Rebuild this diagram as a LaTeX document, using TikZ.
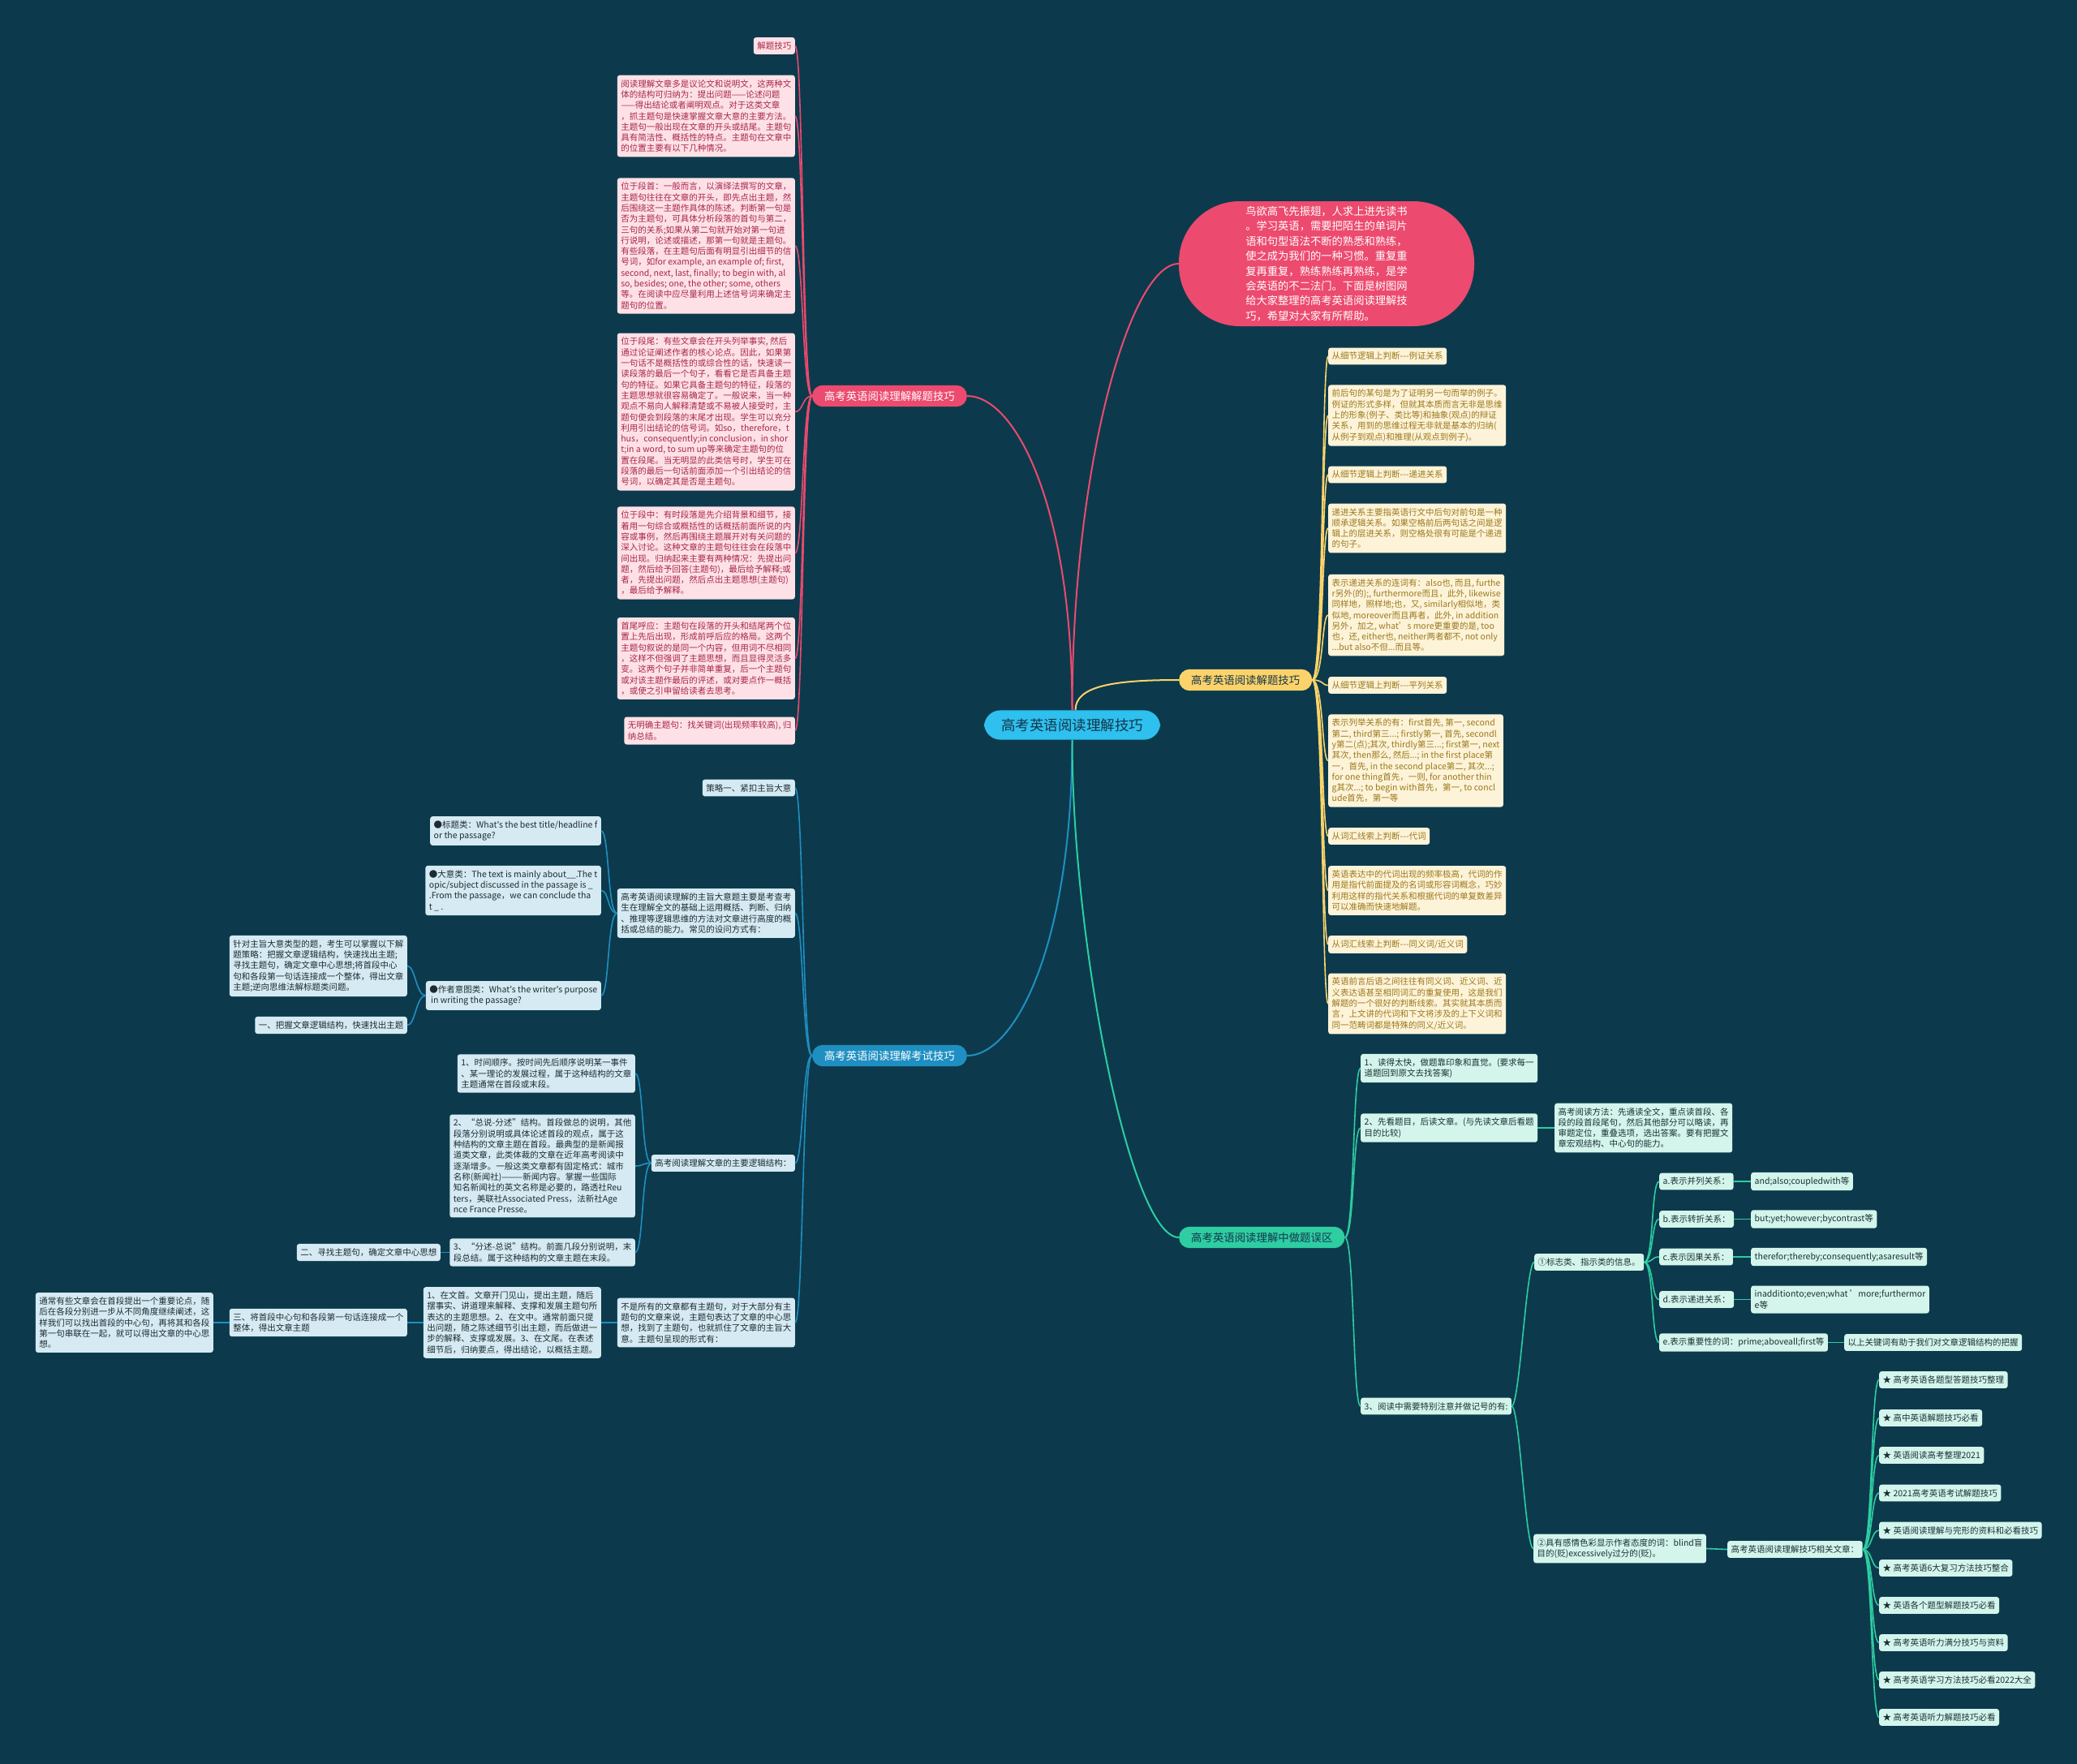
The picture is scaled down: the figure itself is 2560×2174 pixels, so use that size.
\documentclass[tikz,border=0pt]{standalone}
\usepackage{fontspec}
\setmainfont{Noto Sans CJK SC}[Ligatures=TeXOff]
\definecolor{bgc}{HTML}{0C3A4C}
\definecolor{centerfill}{HTML}{2EC0EE}
\definecolor{centertext}{HTML}{15364A}
\definecolor{pinkmain}{HTML}{EC4A6E}
\definecolor{pinkfill}{HTML}{FDE1E6}
\definecolor{pinktext}{HTML}{A8264A}
\definecolor{yellowmain}{HTML}{FCD36A}
\definecolor{yellowfill}{HTML}{FDF3D8}
\definecolor{yellowtext}{HTML}{9A781C}
\definecolor{bluemain}{HTML}{1F8FC2}
\definecolor{bluefill}{HTML}{D5EAF2}
\definecolor{bluetext}{HTML}{1E2B33}
\definecolor{greenmain}{HTML}{2ECDA2}
\definecolor{greenfill}{HTML}{D3F5EB}
\definecolor{greentext}{HTML}{1B3035}
\tikzset{
  base/.style={rounded corners=3pt, inner xsep=4.5pt, inner ysep=5.5pt, align=left,
    font=\fontsize{10.5}{13.3}\selectfont},
  pinkbox/.style={base, fill=pinkfill, text=pinktext},
  yellowbox/.style={base, fill=yellowfill, text=yellowtext},
  bluebox/.style={base, fill=bluefill, text=bluetext},
  greenbox/.style={base, fill=greenfill, text=greentext},
  mainnode/.style={rounded corners=13pt, inner xsep=15pt, inner ysep=7pt,
    font=\fontsize{13.4}{16}\selectfont},
  pinkline/.style={draw=pinkmain, line width=1.6pt},
  yellowline/.style={draw=yellowmain, line width=1.6pt},
  blueline/.style={draw=bluemain, line width=1.6pt},
  greenline/.style={draw=greenmain, line width=1.6pt},
}
\begin{document}
\begin{tikzpicture}[x=1pt,y=-1pt]
\fill[bgc] (0,0) rectangle (2560,2174);
\useasboundingbox (0,0) rectangle (2560,2174);

% ---------- main nodes ----------
\node[rounded corners=20pt, fill=centerfill, text=centertext, inner xsep=21pt, inner ysep=10pt,
  font=\fontsize{17.5}{20}\selectfont] (center) at (1321.5,893.5) {高考英语阅读理解技巧};
\node[mainnode, fill=pinkmain, text=white, anchor=east] (pinkB) at (1192,488) {高考英语阅读理解解题技巧};
\node[mainnode, fill=yellowmain, text=centertext, anchor=west] (yellowB) at (1453,838) {高考英语阅读解题技巧};
\node[mainnode, fill=bluemain, text=white, anchor=east] (blueB) at (1192,1301) {高考英语阅读理解考试技巧};
\node[mainnode, fill=greenmain, text=centertext, anchor=west] (greenB) at (1453,1525) {高考英语阅读理解中做题误区};
\node[fill=pinkmain, text=white, rounded corners=75pt, minimum width=364pt, minimum height=154pt,
  align=left, font=\fontsize{13.3}{18.4}\selectfont] (bubble) at (1635,325)
  {鸟欲高飞先振翅，人求上进先读书\\。学习英语，需要把陌生的单词片\\语和句型语法不断的熟悉和熟练，\\使之成为我们的一种习惯。重复重\\复再重复，熟练熟练再熟练，是学\\会英语的不二法门。下面是树图网\\给大家整理的高考英语阅读理解技\\巧，希望对大家有所帮助。};

\draw[pinkline, line width=2pt] (center.north) .. controls +(0,-250) and +(60,0) .. (pinkB.east);
\draw[pinkline, line width=2pt] (center.north) .. controls +(0,-300) and +(-60,0) .. (bubble.west);
\draw[yellowline, line width=2pt] ([xshift=4pt]center.north) .. controls +(0,-30) and +(-80,0) .. (yellowB.west);
\draw[blueline, line width=2pt] (center.south) .. controls +(0,250) and +(60,0) .. (blueB.east);
\draw[greenline, line width=2pt] (center.south) .. controls +(0,250) and +(-60,0) .. (greenB.west);

% ---------- pink branch ----------
\node[pinkbox, anchor=east] (p0) at (980,56.5) {解题技巧};
\node[pinkbox, anchor=east] (p1) at (980,143) {阅读理解文章多是议论文和说明文，这两种文\\体的结构可归纳为：提出问题——论述问题\\——得出结论或者阐明观点。对于这类文章\\，抓主题句是快速掌握文章大意的主要方法。\\主题句一般出现在文章的开头或结尾。主题句\\具有简洁性、概括性的特点。主题句在文章中\\的位置主要有以下几种情况。};
\node[pinkbox, anchor=east] (p2) at (980,303) {位于段首：一般而言，以演绎法撰写的文章，\\主题句往往在文章的开头，即先点出主题，然\\后围绕这一主题作具体的陈述。判断第一句是\\否为主题句，可具体分析段落的首句与第二，\\三句的关系;如果从第二句就开始对第一句进\\行说明，论述或描述，那第一句就是主题句。\\有些段落，在主题句后面有明显引出细节的信\\号词，如for example, an example of; first,\\second, next, last, finally; to begin with, al\\so, besides; one, the other; some, others\\等。在阅读中应尽量利用上述信号词来确定主\\题句的位置。};
\node[pinkbox, anchor=east] (p3) at (980,507.5) {位于段尾：有些文章会在开头列举事实, 然后\\通过论证阐述作者的核心论点。因此，如果第\\一句话不是概括性的或综合性的话，快速读一\\读段落的最后一个句子，看看它是否具备主题\\句的特征。如果它具备主题句的特征，段落的\\主题思想就很容易确定了。一般说来，当一种\\观点不易向人解释清楚或不易被人接受时，主\\题句便会到段落的末尾才出现。学生可以充分\\利用引出结论的信号词。如so，therefore，t\\hus，consequently;in conclusion，in shor\\t;in a word, to sum up等来确定主题句的位\\置在段尾。当无明显的此类信号时，学生可在\\段落的最后一句话前面添加一个引出结论的信\\号词，以确定其是否是主题句。};
\node[pinkbox, anchor=east] (p4) at (980,681.5) {位于段中：有时段落是先介绍背景和细节，接\\着用一句综合或概括性的话概括前面所说的内\\容或事例，然后再围绕主题展开对有关问题的\\深入讨论。这种文章的主题句往往会在段落中\\间出现。归纳起来主要有两种情况：先提出问\\题，然后给予回答(主题句)，最后给予解释;或\\者，先提出问题，然后点出主题思想(主题句)\\，最后给予解释。};
\node[pinkbox, anchor=east] (p5) at (980,811.5) {首尾呼应：主题句在段落的开头和结尾两个位\\置上先后出现，形成前呼后应的格局。这两个\\主题句叙说的是同一个内容，但用词不尽相同\\，这样不但强调了主题思想，而且显得灵活多\\变。这两个句子并非简单重复，后一个主题句\\或对该主题作最后的评述，或对要点作一概括\\，或使之引申留给读者去思考。};
\node[pinkbox, anchor=east] (p6) at (980,900.5) {无明确主题句：找关键词(出现频率较高), 归\\纳总结。};
\foreach \n in {p0,p1,p2,p3,p4,p5,p6}
  \draw[pinkline] (pinkB.west) .. controls +(-12,0) and +(10,0) .. (\n.east);

% ---------- yellow branch ----------
\node[yellowbox, anchor=west] (y0) at (1637,439) {从细节逻辑上判断---例证关系};
\node[yellowbox, anchor=west] (y1) at (1637,512) {前后句的某句是为了证明另一句而举的例子。\\例证的形式多样，但就其本质而言无非是思维\\上的形象(例子、类比等)和抽象(观点)的辩证\\关系，用到的思维过程无非就是基本的归纳(\\从例子到观点)和推理(从观点到例子)。};
\node[yellowbox, anchor=west] (y2) at (1637,585) {从细节逻辑上判断---递进关系};
\node[yellowbox, anchor=west] (y3) at (1637,651) {递进关系主要指英语行文中后句对前句是一种\\顺承逻辑关系。如果空格前后两句话之间是逻\\辑上的层进关系，则空格处很有可能是个递进\\的句子。};
\node[yellowbox, anchor=west] (y4) at (1637,758) {表示递进关系的连词有：also也, 而且, furthe\\r另外(的);, furthermore而且，此外, likewise\\同样地，照样地;也，又, similarly相似地，类\\似地, moreover而且再者，此外, in addition\\另外，加之, what’s more更重要的是, too\\也，还, either也, neither两者都不, not only\\...but also不但...而且等。};
\node[yellowbox, anchor=west] (y5) at (1637,844.5) {从细节逻辑上判断---平列关系};
\node[yellowbox, anchor=west] (y6) at (1637,937.5) {表示列举关系的有：first首先, 第一, second\\第二, third第三...; firstly第一, 首先, secondl\\y第二(点);其次, thirdly第三...; first第一, next\\其次, then那么, 然后...; in the first place第\\一，首先, in the second place第二, 其次...;\\for one thing首先，一则, for another thin\\g其次...; to begin with首先，第一, to concl\\ude首先，第一等};
\node[yellowbox, anchor=west] (y7) at (1637,1030.5) {从词汇线索上判断---代词};
\node[yellowbox, anchor=west] (y8) at (1637,1097.5) {英语表达中的代词出现的频率极高，代词的作\\用是指代前面提及的名词或形容词概念，巧妙\\利用这样的指代关系和根据代词的单复数差异\\可以准确而快速地解题。};
\node[yellowbox, anchor=west] (y9) at (1637,1164) {从词汇线索上判断---同义词/近义词};
\node[yellowbox, anchor=west] (y10) at (1637,1237) {英语前言后语之间往往有同义词、近义词、近\\义表达语甚至相同词汇的重复使用，这是我们\\解题的一个很好的判断线索。其实就其本质而\\言，上文讲的代词和下文将涉及的上下义词和\\同一范畴词都是特殊的同义/近义词。};
\foreach \n in {y0,y1,y2,y3,y4,y5,y6,y7,y8,y9,y10}
  \draw[yellowline] (yellowB.east) .. controls +(14,0) and +(-8,0) .. (\n.west);

% ---------- blue branch ----------
\node[bluebox, anchor=east] (b1) at (980,971) {策略一、紧扣主旨大意};
\node[bluebox, anchor=east] (b2) at (980,1125.5) {高考英语阅读理解的主旨大意题主要是考查考\\生在理解全文的基础上运用概括、判断、归纳\\、推理等逻辑思维的方法对文章进行高度的概\\括或总结的能力。常见的设问方式有：};
\node[bluebox, anchor=east] (b3) at (980,1433.5) {高考阅读理解文章的主要逻辑结构：};
\node[bluebox, anchor=east] (b4) at (980,1630) {不是所有的文章都有主题句，对于大部分有主\\题句的文章来说，主题句表达了文章的中心思\\想，找到了主题句，也就抓住了文章的主旨大\\意。主题句呈现的形式有：};
\foreach \n in {b1,b2,b3,b4}
  \draw[blueline] (blueB.west) .. controls +(-12,0) and +(10,0) .. (\n.east);

\node[bluebox, anchor=east] (b21) at (741,1024) {●标题类：What's the best title/headline f\\or the passage?};
\node[bluebox, anchor=east] (b22) at (741,1097.5) {●大意类：The text is mainly about\_\_.The t\\opic/subject discussed in the passage is \_\\.From the passage，we can conclude tha\\t \_ .};
\node[bluebox, anchor=east] (b23) at (741,1227) {●作者意图类：What's the writer's purpose\\\,in writing the passage?};
\foreach \n in {b21,b22,b23}
  \draw[blueline] (b2.west) .. controls +(-12,0) and +(10,0) .. (\n.east);

\node[bluebox, anchor=east] (b231) at (502,1190.5) {针对主旨大意类型的题，考生可以掌握以下解\\题策略：把握文章逻辑结构，快速找出主题;\\寻找主题句，确定文章中心思想;将首段中心\\句和各段第一句话连接成一个整体，得出文章\\主题;逆向思维法解标题类问题。};
\node[bluebox, anchor=east] (b232) at (502,1263.5) {一、把握文章逻辑结构，快速找出主题};
\foreach \n in {b231,b232}
  \draw[blueline] (b23.west) .. controls +(-12,0) and +(10,0) .. (\n.east);

\node[bluebox, anchor=east] (b31) at (783,1323) {1、时间顺序。按时间先后顺序说明某一事件\\、某一理论的发展过程，属于这种结构的文章\\主题通常在首段或末段。};
\node[bluebox, anchor=east] (b32) at (783,1437) {2、“总说-分述”结构。首段做总的说明，其他\\段落分别说明或具体论述首段的观点，属于这\\种结构的文章主题在首段。最典型的是新闻报\\道类文章，此类体裁的文章在近年高考阅读中\\逐渐增多。一般这类文章都有固定格式：城市\\名称(新闻社)———新闻内容。掌握一些国际\\知名新闻社的英文名称是必要的，路透社Reu\\ters，美联社Associated Press，法新社Age\\nce France Presse。};
\node[bluebox, anchor=east] (b33) at (783,1543.5) {3、“分述-总说”结构。前面几段分别说明，末\\段总结。属于这种结构的文章主题在末段。};
\foreach \n in {b31,b32,b33}
  \draw[blueline] (b3.west) .. controls +(-12,0) and +(10,0) .. (\n.east);

\node[bluebox, anchor=east] (b331) at (543,1543.5) {二、寻找主题句，确定文章中心思想};
\draw[blueline] (b33.west) -- (b331.east);

\node[bluebox, anchor=east] (b41) at (741,1630) {1、在文首。文章开门见山，提出主题，随后\\摆事实、讲道理来解释、支撑和发展主题句所\\表达的主题思想。2、在文中。通常前面只提\\出问题，随之陈述细节引出主题，而后做进一\\步的解释、支撑或发展。3、在文尾。在表述\\细节后，归纳要点，得出结论，以概括主题。};
\draw[blueline] (b4.west) -- (b41.east);
\node[bluebox, anchor=east] (b411) at (502,1630) {三、将首段中心句和各段第一句话连接成一个\\整体，得出文章主题};
\draw[blueline] (b41.west) -- (b411.east);
\node[bluebox, anchor=east] (b4111) at (263,1630) {通常有些文章会在首段提出一个重要论点，随\\后在各段分别进一步从不同角度继续阐述，这\\样我们可以找出首段的中心句，再将其和各段\\第一句串联在一起，就可以得出文章的中心思\\想。};
\draw[blueline] (b411.west) -- (b4111.east);

% ---------- green branch ----------
\node[greenbox, anchor=west] (g1) at (1677,1316.5) {1、读得太快，做题靠印象和直觉。(要求每一\\道题回到原文去找答案)};
\node[greenbox, anchor=west] (g2) at (1677,1390) {2、先看题目，后读文章。(与先读文章后看题\\目的比较)};
\node[greenbox, anchor=west] (g3) at (1677,1733) {3、阅读中需要特别注意并做记号的有:};
\foreach \n in {g1,g2,g3}
  \draw[greenline] (greenB.east) .. controls +(12,0) and +(-10,0) .. (\n.west);

\node[greenbox, anchor=west] (g21) at (1916,1390) {高考阅读方法：先通读全文，重点读首段、各\\段的段首段尾句，然后其他部分可以略读，再\\审题定位，重叠选项，选出答案。要有把握文\\章宏观结构、中心句的能力。};
\draw[greenline] (g2.east) -- (g21.west);

\node[greenbox, anchor=west] (g31) at (1891,1555.5) {①标志类、指示类的信息。};
\node[greenbox, anchor=west] (g32) at (1890,1908.5) {②具有感情色彩显示作者态度的词：blind盲\\目的(贬)excessively过分的(贬)。};
\foreach \n in {g31,g32}
  \draw[greenline] (g3.east) .. controls +(10,0) and +(-10,0) .. (\n.west);

\node[greenbox, anchor=west] (ga) at (2045,1456) {a.表示并列关系：};
\node[greenbox, anchor=west] (gb) at (2045,1502.5) {b.表示转折关系：};
\node[greenbox, anchor=west] (gc) at (2045,1549) {c.表示因果关系：};
\node[greenbox, anchor=west] (gd) at (2045,1601.5) {d.表示递进关系：};
\node[greenbox, anchor=west] (ge) at (2045,1654.5) {e.表示重要性的词：prime;aboveall;first等};
\foreach \n in {ga,gb,gc,gd,ge}
  \draw[greenline] (g31.east) .. controls +(12,0) and +(-10,0) .. (\n.west);

\node[greenbox, anchor=west] (gav) at (2158,1456) {and;also;coupledwith等};
\node[greenbox, anchor=west] (gbv) at (2158,1502.5) {but;yet;however;bycontrast等};
\node[greenbox, anchor=west] (gcv) at (2158,1549) {therefor;thereby;consequently;asaresult等};
\node[greenbox, anchor=west] (gdv) at (2158,1601.5) {inadditionto;even;what ’more;furthermor\\e等};
\node[greenbox, anchor=west] (gev) at (2273,1654.5) {以上关键词有助于我们对文章逻辑结构的把握};
\draw[greenline] (ga.east) -- (gav.west);
\draw[greenline] (gb.east) -- (gbv.west);
\draw[greenline] (gc.east) -- (gcv.west);
\draw[greenline] (gd.east) -- (gdv.west);
\draw[greenline] (ge.east) -- (gev.west);

\node[greenbox, anchor=west] (g321) at (2129,1909.5) {高考英语阅读理解技巧相关文章：};
\draw[greenline] (g32.east) -- (g321.west);

\node[greenbox, anchor=west] (s1) at (2316,1700.5) {★ 高考英语各题型答题技巧整理};
\node[greenbox, anchor=west] (s2) at (2316,1747.5) {★ 高中英语解题技巧必看};
\node[greenbox, anchor=west] (s3) at (2316,1793.5) {★ 英语阅读高考整理2021};
\node[greenbox, anchor=west] (s4) at (2316,1840) {★ 2021高考英语考试解题技巧};
\node[greenbox, anchor=west] (s5) at (2316,1886) {★ 英语阅读理解与完形的资料和必看技巧};
\node[greenbox, anchor=west] (s6) at (2316,1932.5) {★ 高考英语6大复习方法技巧整合};
\node[greenbox, anchor=west] (s7) at (2316,1978.5) {★ 英语各个题型解题技巧必看};
\node[greenbox, anchor=west] (s8) at (2316,2024.5) {★ 高考英语听力满分技巧与资料};
\node[greenbox, anchor=west] (s9) at (2316,2070.5) {★ 高考英语学习方法技巧必看2022大全};
\node[greenbox, anchor=west] (s10) at (2316,2116.5) {★ 高考英语听力解题技巧必看};
\foreach \n in {s1,s2,s3,s4,s5,s6,s7,s8,s9,s10}
  \draw[greenline] (g321.east) .. controls +(12,0) and +(-10,0) .. (\n.west);
\end{tikzpicture}
\end{document}
